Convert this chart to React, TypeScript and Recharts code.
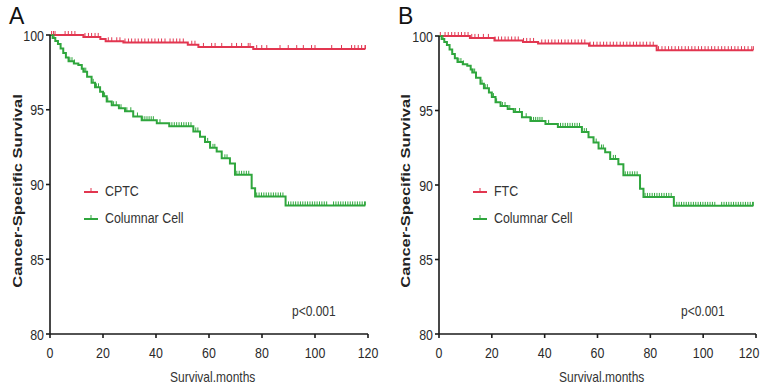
import React from 'react';
import { LineChart, Line, XAxis, YAxis } from 'recharts';

// Columnar Cell (same group in both panels)
const ccStepTimes = [0, 1, 2, 3, 4, 5, 6, 7, 9, 10.7, 12, 12.6, 14, 15.7, 17, 18.9, 20, 21.4, 23.3, 26, 28.3, 31.4, 34.6, 40.3, 45, 54.1, 56.6, 58.5, 60.4, 62.9, 64.8, 67.9, 69.8, 76.1, 77.4, 88.9];
const ccStepSurv = [100, 99.8, 99.6, 99.4, 99.1, 98.8, 98.5, 98.25, 98.1, 98.0, 97.75, 97.55, 97.2, 96.8, 96.5, 96.2, 95.9, 95.55, 95.3, 95.1, 94.9, 94.55, 94.3, 94.1, 93.9, 93.55, 93.2, 92.85, 92.45, 92.2, 91.75, 91.4, 90.65, 89.75, 89.2, 88.6];
const ccCensored = [1.5, 7.5, 8.3, 9.2, 12.9, 13.5, 16.3, 17.5, 18.3, 20.6, 21.8, 24, 25, 26.8, 29, 30.5, 33, 35, 35.8, 36.6, 37.4, 38.2, 39, 41.5, 46, 46.9, 47.8, 48.7, 49.6, 50.5, 51.4, 52.3, 53.2, 55, 55.8, 59.5, 61.5, 62.2, 66, 66.8, 70.5, 71.4, 72.3, 73.2, 74.1, 75, 78, 78.9, 79.8, 80.7, 81.6, 82.5, 83.4, 84.3, 85.2, 86.1, 87, 87.9, 90, 90.9, 91.8, 92.7, 93.6, 94.5, 95.4, 96.3, 97.2, 98.1, 99, 99.9, 100.8, 101.7, 102.6, 103.5, 104.4, 107, 107.9, 108.8, 109.7, 110.6, 111.5, 112.4, 113.3, 114.2, 115.1, 116, 116.9, 117.8, 118.7, 119];

// CPTC (panel A)
const cptcStepTimes = [0, 12.6, 19, 21, 27.7, 52, 56, 76.7];
const cptcStepSurv = [100, 99.87, 99.73, 99.58, 99.5, 99.35, 99.2, 99.06];
const cptcCensored = [0.6, 1.3, 1.9, 5.7, 6.9, 8.2, 9.4, 13.2, 14.5, 15.7, 17, 18.2, 22, 23.3, 25.2, 26.4, 28.3, 29.6, 30.8, 32.1, 33.3, 34.6, 35.8, 37.1, 38.4, 39.6, 40.9, 42.1, 43.4, 45.3, 46.5, 47.8, 49, 50.3, 53.5, 54.7, 57.9, 61, 62.3, 64.8, 68.6, 70.4, 72.3, 74.8, 75.5, 78, 79.9, 81.8, 86.8, 89.9, 93.1, 95.6, 98.7, 100, 106.3, 110, 113.8, 115, 116.3, 117.6, 118.9, 119];

// FTC (panel B)
const ftcStepTimes = [0, 11.7, 21, 31.8, 37.5, 56.8, 82.4];
const ftcStepSurv = [100, 99.87, 99.7, 99.6, 99.5, 99.35, 99.05];
const ftcCensored = [0.5, 2.3, 3.5, 4.8, 6, 7.3, 8.5, 9.8, 11, 12.4, 13.6, 14.9, 16.8, 18.7, 21.2, 22.5, 23.7, 25, 26.2, 27.5, 28.8, 30, 32, 33.2, 34.5, 35.8, 38.9, 40.2, 41.4, 42.7, 43.9, 45.2, 46.4, 47.7, 48.9, 50.2, 51.5, 52.7, 54, 55.2, 57.2, 58.5, 59.8, 61, 62.3, 63.5, 64.8, 66, 67.3, 68.6, 69.8, 71.1, 72.3, 73.6, 74.8, 76.1, 77.3, 78.6, 79.9, 81.1, 83.1, 84.4, 85.6, 86.9, 88.1, 89.4, 90.7, 91.9, 93.2, 94.4, 95.7, 96.9, 98.2, 99.4, 100.7, 101.9, 103.2, 104.4, 105.7, 107, 108.2, 109.5, 110.7, 112, 113.2, 114.5, 115.7, 117, 118.4, 119];

const xTicks = [0, 20, 40, 60, 80, 100, 120];
const yTicks = [80, 85, 90, 95, 100];

const RED = '#e23650';
const GREEN = '#2fa63d';
const SANS = '"Liberation Sans", Arial, sans-serif';
const SQUEEZE = 0.8; // the reference is horizontally compressed

interface Pt { t: number; s: number; c: boolean }

function buildCurve(times: number[], surv: number[], cens: number[]): Pt[] {
  const survAt = (t: number) => {
    let v = surv[0];
    for (let i = 0; i < times.length; i++) if (times[i] <= t) v = surv[i];
    return v;
  };
  const pts: Pt[] = times.map((t, i) => ({ t, s: surv[i], c: false }));
  cens.forEach((t) => pts.push({ t, s: survAt(t), c: true }));
  return pts.sort((a, b) => a.t - b.t || (a.c ? 1 : -1));
}

const censorDot = (color: string) => (props: any) => {
  const { cx, cy, payload, index } = props;
  if (!payload || !payload.c || cx == null) return <g key={`d${index}`} />;
  return <line key={`d${index}`} x1={cx} x2={cx} y1={cy} y2={cy - 4} stroke={color} strokeWidth={1} />;
};

const XTick = (props: any) => {
  const { x, y, payload } = props;
  return (
    <g transform={`translate(${x},${y})`}>
      <text transform={`scale(${SQUEEZE},1)`} textAnchor="middle" dy="0.71em" fontSize={15.5} fontFamily={SANS} fill="#2a2a2a">
        {payload.value}
      </text>
    </g>
  );
};

const YTick = (props: any) => {
  const { x, y, payload } = props;
  return (
    <g transform={`translate(${x},${y})`}>
      <text transform={`scale(${SQUEEZE},1)`} textAnchor="end" dy="0.355em" fontSize={15.5} fontFamily={SANS} fill="#2a2a2a">
        {payload.value}
      </text>
    </g>
  );
};

const Narrow: React.FC<{ size: number; children: React.ReactNode }> = ({ size, children }) => (
  <span style={{ display: 'inline-block', fontSize: size, fontFamily: SANS, color: '#333', transform: `scaleX(${SQUEEZE})`, transformOrigin: 'left center', whiteSpace: 'nowrap' }}>
    {children}
  </span>
);

interface PanelProps {
  letter: string;
  left: number;
  width: number;
  marginLeft: number;
  marginRight: number;
  marginTop: number;
  redName: string;
  red: Pt[];
  green: Pt[];
  legendX: number;
  pX: number;
  axisTitleX: number;
  letterX: number;
  xTitleX: number;
}

const Panel: React.FC<PanelProps> = (p) => {
  const axisStyle = { stroke: '#1a1a1a', strokeWidth: 1.6 };
  return (
    <div style={{ position: 'absolute', left: p.left, top: 0, width: p.width, height: 387 }}>
      <LineChart width={p.width} height={387} margin={{ top: p.marginTop, right: p.marginRight, bottom: 23, left: p.marginLeft }}>
        <XAxis
          type="number"
          dataKey="t"
          domain={[0, 120]}
          ticks={xTicks}
          tickSize={4}
          tickMargin={9}
          height={30}
          axisLine={axisStyle}
          tickLine={axisStyle}
          tick={<XTick />}
          allowDuplicatedCategory={false}
        />
        <YAxis
          type="number"
          domain={[80, 100]}
          ticks={yTicks}
          width={40}
          tickSize={4}
          tickMargin={2}
          axisLine={axisStyle}
          tickLine={axisStyle}
          tick={<YTick />}
        />
        <Line data={p.red} dataKey="s" type="stepAfter" stroke={RED} strokeWidth={2} dot={censorDot(RED)} activeDot={false} isAnimationActive={false} />
        <Line data={p.green} dataKey="s" type="stepAfter" stroke={GREEN} strokeWidth={2} dot={censorDot(GREEN)} activeDot={false} isAnimationActive={false} />
      </LineChart>
      <div style={{ position: 'absolute', left: p.letterX, top: 3, fontSize: 23, fontFamily: SANS, color: '#111' }}>{p.letter}</div>
      <div
        style={{
          position: 'absolute', left: p.axisTitleX - 120, top: 182, width: 240, textAlign: 'center',
          transform: `rotate(-90deg) scaleY(${SQUEEZE})`, fontSize: 16.5, fontWeight: 'bold', lineHeight: '18px',
          fontFamily: SANS, color: '#222',
        }}
      >
        Cancer-Specific Survival
      </div>
      <div style={{ position: 'absolute', left: p.xTitleX, top: 368 }}>
        <Narrow size={15}>Survival.months</Narrow>
      </div>
      <div style={{ position: 'absolute', left: p.pX, top: 302 }}>
        <Narrow size={15}>p&lt;0.001</Narrow>
      </div>
      {[{ name: p.redName, color: RED, y: 191 }, { name: 'Columnar Cell', color: GREEN, y: 218 }].map((it) => (
        <div key={it.name} style={{ position: 'absolute', left: p.legendX, top: it.y - 9, height: 18, display: 'flex', alignItems: 'center' }}>
          <svg width={16} height={18} style={{ marginRight: 6 }}>
            <line x1={1} x2={15} y1={10} y2={10} stroke={it.color} strokeWidth={2} />
            <line x1={8} x2={8} y1={10} y2={6} stroke={it.color} strokeWidth={1} />
          </svg>
          <Narrow size={15.5}>{it.name}</Narrow>
        </div>
      ))}
    </div>
  );
};

const App: React.FC = () => {
  const green = buildCurve(ccStepTimes, ccStepSurv, ccCensored);
  const cptc = buildCurve(cptcStepTimes, cptcStepSurv, cptcCensored);
  const ftc = buildCurve(ftcStepTimes, ftcStepSurv, ftcCensored);
  return (
    <div style={{ position: 'absolute', left: 0, top: 0, width: 761, height: 387, background: '#fff', overflow: 'hidden' }}>
      <Panel letter="A" left={0} width={380} marginLeft={10} marginRight={12} marginTop={35} redName="CPTC" red={cptc} green={green} legendX={83} pX={292} axisTitleX={17} letterX={9} xTitleX={170} />
      <Panel letter="B" left={380} width={381} marginLeft={19} marginRight={5} marginTop={36} redName="FTC" red={ftc} green={green} legendX={92} pX={301} axisTitleX={25} letterX={18} xTitleX={179} />
    </div>
  );
};

export default App;
